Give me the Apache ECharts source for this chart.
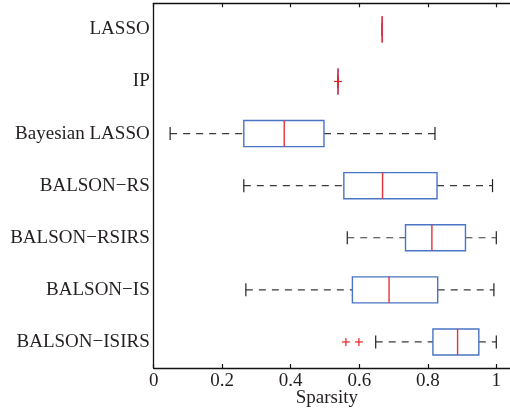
<!DOCTYPE html>
<html><head><meta charset="utf-8">
<script src="https://cdn.jsdelivr.net/npm/echarts@6/dist/echarts.min.js"></script>
<style>html,body{margin:0;padding:0;background:#fff}#c{width:510px;height:412px}</style>
</head><body><div id="c"></div>
<script>
const categories = ['LASSO','IP','Bayesian LASSO','BALSON\u2212RS','BALSON\u2212RSIRS','BALSON\u2212IS','BALSON\u2212ISIRS'];
const mins    = [0.667, 0.538, 0.048, 0.263, 0.565, 0.269, 0.648];
const q1s     = [0.667, 0.538, 0.263, 0.555, 0.735, 0.580, 0.815];
const medians = [0.667, 0.538, 0.381, 0.668, 0.812, 0.687, 0.887];
const q3s     = [0.667, 0.538, 0.497, 0.827, 0.910, 0.829, 0.949];
const maxs    = [0.667, 0.538, 0.821, 0.989, 1.000, 0.993, 1.000];
const outlierCats = [1, 6, 6];
const outlierVals = [0.538, 0.561, 0.599];
const xTicks = [0, 0.2, 0.4, 0.6, 0.8, 1];

const FONT = "'Liberation Serif','Times New Roman',serif";
const TXT = '#231f20';
const boxData = categories.map((c, i) => [i, mins[i], q1s[i], medians[i], q3s[i], maxs[i]]);
const outData = outlierCats.map((c, i) => [c, outlierVals[i]]);

const chart = echarts.init(document.getElementById('c'), null, {renderer: 'canvas'});
function boxRender(params, api) {
  const ci = api.value(0);
  const band = api.size([0, 1])[1];
  const hb = band * 0.25, hc = band * 0.125;
  const pMin = api.coord([api.value(1), ci]);
  const pQ1 = api.coord([api.value(2), ci]);
  const pMed = api.coord([api.value(3), ci]);
  const pQ3 = api.coord([api.value(4), ci]);
  const pMax = api.coord([api.value(5), ci]);
  const y = pMed[1];
  const dash = {stroke: '#3a3a3a', lineWidth: 1.2, lineDash: [7, 6]};
  const solid = {stroke: '#222', lineWidth: 1.2};
  return {type: 'group', children: [
    {type: 'line', shape: {x1: pMin[0], y1: y, x2: pQ1[0], y2: y}, style: dash},
    {type: 'line', shape: {x1: pQ3[0], y1: y, x2: pMax[0], y2: y}, style: dash},
    {type: 'line', shape: {x1: pMin[0], y1: y - hc, x2: pMin[0], y2: y + hc}, style: solid},
    {type: 'line', shape: {x1: pMax[0], y1: y - hc, x2: pMax[0], y2: y + hc}, style: solid},
    {type: 'rect', shape: {x: pQ1[0], y: y - hb, width: pQ3[0] - pQ1[0], height: 2 * hb},
      style: {fill: 'none', stroke: '#4a74c4', lineWidth: 1.4}},
    {type: 'line', shape: {x1: pMed[0], y1: y - hb, x2: pMed[0], y2: y + hb},
      style: {stroke: '#e8303a', lineWidth: 1.4}}
  ]};
}
function outRender(params, api) {
  const p = api.coord([api.value(1), api.value(0)]);
  const s = 4;
  const st = {stroke: '#ee2222', lineWidth: 1.2};
  return {type: 'group', children: [
    {type: 'line', shape: {x1: p[0] - s, y1: p[1], x2: p[0] + s, y2: p[1]}, style: st},
    {type: 'line', shape: {x1: p[0], y1: p[1] - s, x2: p[0], y2: p[1] + s}, style: st}
  ]};
}
const xCommon = {
  type: 'value', min: 0, max: 1.04, interval: 0.2,
  splitLine: {show: false},
  axisLine: {show: true, lineStyle: {color: '#111', width: 1.3}},
  axisTick: {show: true, inside: true, length: 4, lineStyle: {color: '#111', width: 1.2}, customValues: xTicks},
};
chart.setOption({
  animation: false,
  grid: {left: 153.7, top: 3.3, right: 0, bottom: 44, outerBoundsMode: 'none', containLabel: false},
  xAxis: [
    Object.assign({}, xCommon, {
      position: 'bottom',
      axisLabel: {show: true, margin: 4, fontFamily: FONT, fontSize: 19, color: TXT, customValues: xTicks,
        formatter: v => String(v)},
      name: 'Sparsity', nameLocation: 'middle', nameGap: 21, nameMoveOverlap: false,
      nameTextStyle: {fontFamily: FONT, fontSize: 19, color: TXT, padding: [0, 10, 0, 0]}
    }),
    Object.assign({}, xCommon, {position: 'top', axisLabel: {show: false}})
  ],
  yAxis: {
    type: 'category', data: categories, inverse: true,
    axisLine: {show: true, lineStyle: {color: '#111', width: 1.3}},
    axisTick: {show: false},
    splitLine: {show: false},
    axisLabel: {margin: 4, fontFamily: FONT, fontSize: 19, color: TXT}
  },
  series: [
    {type: 'custom', renderItem: boxRender, data: boxData, encode: {y: 0, x: [1, 2, 3, 4, 5]}, xAxisIndex: 0},
    {type: 'custom', renderItem: outRender, data: outData, encode: {y: 0, x: 1}, xAxisIndex: 0}
  ]
});
</script></body></html>
